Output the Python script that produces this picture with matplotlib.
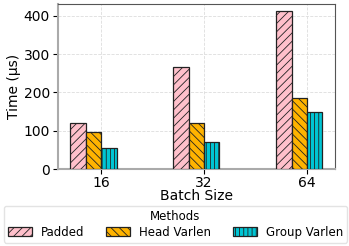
import matplotlib.pyplot as plt
import numpy as np

batch_sizes = ['16', '32', '64']
methods = ['Padded', 'Head Varlen', 'Group Varlen']
padded = [120, 267, 412]
head_varlen = [96, 120, 185]
group_varlen = [54, 70, 150]

colors = ['pink', '#FFB300', '#00C5D4']
hatches = ['////', '\\\\\\\\', '||||']

plt.rcParams['hatch.linewidth'] = 0.6
fig, ax = plt.subplots(figsize=(3.49, 2.46), dpi=100)
fig.subplots_adjust(left=0.165, right=0.96, top=0.983, bottom=0.313)

x = np.arange(len(batch_sizes))
width = 0.15
for i, vals in enumerate([padded, head_varlen, group_varlen]):
    ax.bar(x + i * width, vals, width, color=colors[i], hatch=hatches[i],
           edgecolor='#222222', linewidth=0.9, label=methods[i], zorder=3)

ax.set_xticks(x + 1.5 * width)
ax.set_xticklabels(batch_sizes, fontsize=10)
ax.tick_params(axis='y', labelsize=10, pad=2)
ax.tick_params(axis='x', pad=1.5)
ax.set_yticks([0, 100, 200, 300, 400])
ax.set_ylim(0, 430)
ax.set_xlabel('Batch Size', fontsize=10, labelpad=-1)
ax.set_ylabel('Time (µs)', fontsize=10, labelpad=2)
ax.grid(True, linestyle='--', color='#dddddd', linewidth=0.6, zorder=0)

for s in ['left', 'bottom']:
    ax.spines[s].set_color('#aaaaaa')
    ax.spines[s].set_linewidth(1.5)
for s in ['top', 'right']:
    ax.spines[s].set_color('#555555')

ax.legend(title='Methods', loc='upper center', bbox_to_anchor=(0.425, -0.225),
          ncol=3, fontsize=8.5, title_fontsize=8.5, frameon=True,
          handlelength=2.0, columnspacing=1.9, borderpad=0.35,
          labelspacing=0.2, handletextpad=0.75, borderaxespad=0,
          edgecolor='#dddddd')

plt.savefig('out.png', dpi=100)
